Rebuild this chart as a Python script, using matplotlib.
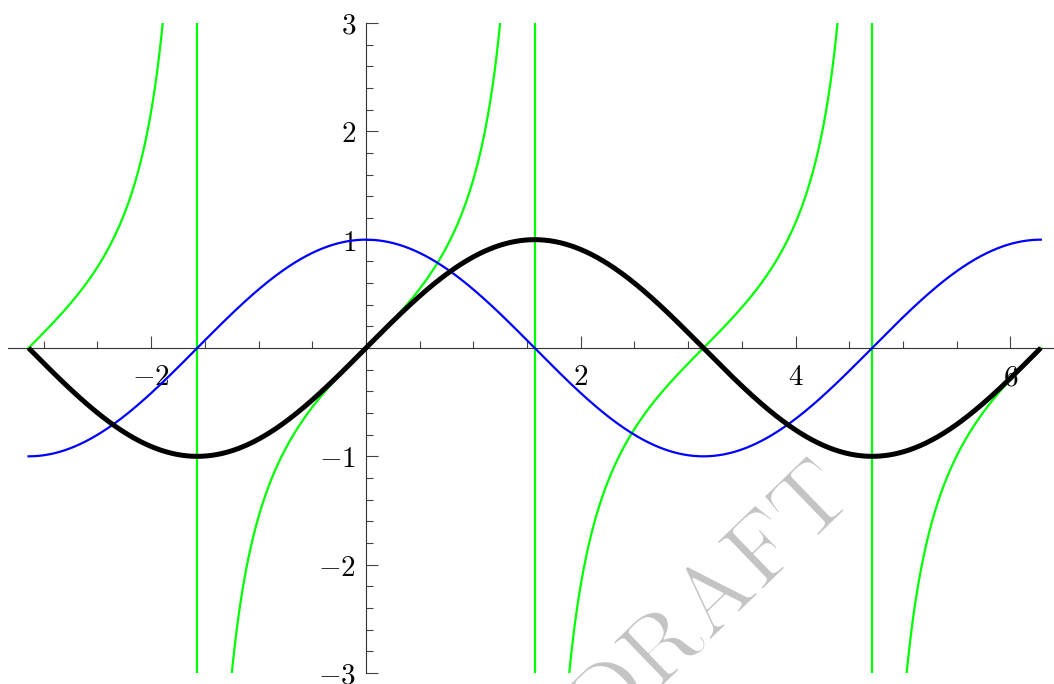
import numpy as np
import matplotlib
matplotlib.use("Agg")
import matplotlib.pyplot as plt
import matplotlib.patheffects as pe
from matplotlib.ticker import MultipleLocator, FixedLocator

plt.rcParams['mathtext.fontset'] = 'cm'
plt.rcParams['font.family'] = ['DejaVu Serif']

# Functions plotted over [-pi, 2pi]
x_min, x_max = -np.pi, 2 * np.pi
asymptotes = [-np.pi / 2, np.pi / 2, 3 * np.pi / 2]
x_major = [-2, 2, 4, 6]
y_major = [-3, -2, -1, 1, 2, 3]

x = np.linspace(x_min, x_max, 2000)
sin_y = np.sin(x)
cos_y = np.cos(x)

fig = plt.figure(figsize=(10.54, 6.84), dpi=100)
ax = fig.add_axes([8 / 1054, 11 / 684, 1 - 8 / 1054, (673 - 23) / 684])

green = (0, 1, 0)
# tan branches
bounds = [x_min] + asymptotes + [x_max]
for a, b in zip(bounds[:-1], bounds[1:]):
    xs = np.linspace(a + 1e-4, b - 1e-4, 1500)
    ys = np.tan(xs)
    ys[np.abs(ys) > 5] = np.nan
    ax.plot(xs, ys, color=green, lw=1.6, zorder=2, clip_on=True)
for a in asymptotes:
    ax.axvline(a, color=green, lw=1.6, zorder=2)

ax.plot(x, cos_y, color=(0, 0, 1), lw=1.6, zorder=3)
ax.plot(x, sin_y, color='black', lw=3.6, zorder=4, solid_capstyle='butt')

ax.set_xlim(-3.333, 6.406)
ax.set_ylim(-3, 3)

for s in ['top', 'right']:
    ax.spines[s].set_visible(False)
ax.spines['left'].set_position(('data', 0))
ax.spines['bottom'].set_position(('data', 0))
for s in ['left', 'bottom']:
    ax.spines[s].set_linewidth(0.8)
    ax.spines[s].set_color('#333333')

ax.xaxis.set_major_locator(FixedLocator(x_major))
ax.xaxis.set_minor_locator(MultipleLocator(0.5))
ax.yaxis.set_major_locator(FixedLocator(y_major))
ax.yaxis.set_minor_locator(MultipleLocator(0.2))
ax.set_xticklabels([r'$%d$' % v for v in x_major])
ax.set_yticklabels([r'$%d$' % v for v in y_major])

ax.tick_params(axis='both', which='major', direction='in', length=8.5, width=0.8,
               color='#444444', labelsize=21)
ax.tick_params(axis='both', which='minor', direction='in', length=4.8, width=0.8,
               color='#444444')
ax.tick_params(axis='x', which='major', pad=11)
ax.tick_params(axis='y', which='major', pad=7)

ax.text(0.672, 0.108, r'$\mathrm{DRAFT}$', transform=ax.transAxes, fontsize=70,
        color='#c4c4c4', rotation=44, ha='center', va='center', zorder=1.5,
        path_effects=[pe.Normal(), pe.Stroke(linewidth=1.4, foreground='white')])

fig.savefig('out.png', dpi=100)
